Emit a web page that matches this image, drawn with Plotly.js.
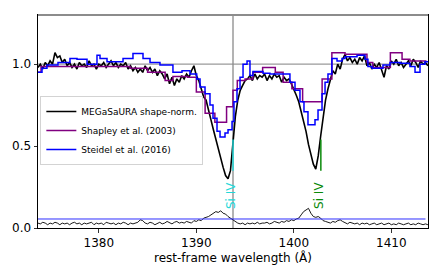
<!DOCTYPE html>
<html>
<head>
<meta charset="utf-8">
<script src="https://cdn.plot.ly/plotly-3.0.1.min.js"></script>
<style>html,body{margin:0;padding:0;background:#fff;}#chart{width:443px;height:277px;}</style>
</head>
<body>
<div id="chart"></div>
<script>
// MEGaSaURA spectrum (rest-frame wavelength, Å)
var megaWave = [1373.75,1374.00,1374.25,1374.50,1374.75,1375.00,1375.25,1375.50,1375.75,1376.00,
1376.25,1376.50,1376.75,1377.00,1377.25,1377.50,1377.75,1378.00,1378.25,1378.50,
1378.75,1379.00,1379.25,1379.50,1379.75,1380.00,1380.25,1380.50,1380.75,1381.00,
1381.25,1381.50,1381.75,1382.00,1382.25,1382.50,1382.75,1383.00,1383.25,1383.50,
1383.75,1384.00,1384.25,1384.50,1384.75,1385.00,1385.25,1385.50,1385.75,1386.00,
1386.25,1386.50,1386.75,1387.00,1387.25,1387.50,1387.75,1388.00,1388.25,1388.50,
1388.75,1389.00,1389.25,1389.50,1389.75,1390.00,1390.25,1390.50,1390.75,1391.00,
1391.25,1391.50,1391.75,1392.00,1392.25,1392.50,1392.75,1393.00,1393.25,1393.50,
1393.75,1394.00,1394.25,1394.50,1394.75,1395.00,1395.25,1395.50,1395.75,1396.00,
1396.25,1396.50,1396.75,1397.00,1397.25,1397.50,1397.75,1398.00,1398.25,1398.50,
1398.75,1399.00,1399.25,1399.50,1399.75,1400.00,1400.25,1400.50,1400.75,1401.00,
1401.25,1401.50,1401.75,1402.00,1402.25,1402.50,1402.75,1403.00,1403.25,1403.50,
1403.75,1404.00,1404.25,1404.50,1404.75,1405.00,1405.25,1405.50,1405.75,1406.00,
1406.25,1406.50,1406.75,1407.00,1407.25,1407.50,1407.75,1408.00,1408.25,1408.50,
1408.75,1409.00,1409.25,1409.50,1409.75,1410.00,1410.25,1410.50,1410.75,1411.00,
1411.25,1411.50,1411.75,1412.00,1412.25,1412.50,1412.75,1413.00,1413.25,1413.50,
1413.75];
var megaFlux = [0.98,1.00,0.97,1.01,0.99,1.02,1.00,1.07,1.04,1.05,
1.01,1.03,0.99,1.01,0.98,1.00,0.97,1.01,0.99,1.00,
0.98,1.02,0.99,1.00,0.97,1.00,0.99,1.01,0.98,1.00,
1.02,0.99,1.01,0.98,1.00,0.99,1.01,0.97,0.99,0.96,
0.98,0.95,0.97,0.95,0.99,0.96,0.98,0.95,0.97,0.93,
0.96,0.94,0.91,0.94,0.88,0.92,0.87,0.91,0.89,0.93,
0.91,0.94,0.92,0.96,0.99,0.93,0.90,0.85,0.80,0.78,
0.71,0.66,0.60,0.54,0.49,0.43,0.37,0.32,0.30,0.35,
0.52,0.68,0.78,0.84,0.87,0.90,0.91,0.93,0.90,0.94,
0.91,0.93,0.92,0.94,0.90,0.93,0.91,0.94,0.92,0.93,
0.89,0.92,0.90,0.91,0.88,0.85,0.81,0.77,0.71,0.65,
0.59,0.51,0.45,0.39,0.36,0.44,0.56,0.68,0.78,0.85,
0.91,0.96,0.94,1.00,0.97,1.03,1.06,1.02,1.04,1.01,
1.03,1.00,1.04,1.02,1.05,0.99,1.01,0.97,1.00,0.98,
1.01,0.96,0.92,0.99,0.97,1.02,1.00,1.03,0.99,1.01,
0.98,1.00,1.02,0.99,1.03,1.01,0.98,1.02,1.00,1.01,
0.99];
var megaErr = [0.03,0.025,0.035,0.03,0.02,0.03,0.025,0.035,0.03,0.02,
0.03,0.025,0.03,0.02,0.03,0.035,0.025,0.03,0.02,0.03,
0.025,0.03,0.035,0.02,0.03,0.025,0.03,0.02,0.035,0.03,
0.025,0.03,0.02,0.03,0.025,0.035,0.03,0.02,0.03,0.025,
0.03,0.035,0.05,0.045,0.03,0.025,0.035,0.03,0.02,0.03,
0.035,0.025,0.03,0.04,0.03,0.025,0.035,0.04,0.03,0.035,
0.03,0.04,0.035,0.03,0.045,0.04,0.05,0.045,0.06,0.065,
0.07,0.08,0.09,0.10,0.095,0.105,0.09,0.085,0.07,0.06,
0.045,0.035,0.03,0.025,0.03,0.02,0.03,0.025,0.03,0.025,
0.035,0.025,0.03,0.03,0.035,0.025,0.03,0.04,0.035,0.03,
0.04,0.035,0.045,0.04,0.05,0.045,0.055,0.06,0.08,0.10,
0.11,0.12,0.09,0.07,0.065,0.07,0.06,0.045,0.04,0.035,
0.03,0.04,0.035,0.045,0.05,0.04,0.03,0.025,0.035,0.03,
0.025,0.03,0.02,0.03,0.025,0.03,0.02,0.025,0.03,0.02,
0.025,0.03,0.02,0.025,0.03,0.02,0.025,0.02,0.03,0.025,
0.02,0.025,0.03,0.02,0.025,0.02,0.03,0.025,0.02,0.025,
0.02];

// Shapley et al. (2003) composite: bin left edges and values
var shapleyWave = [1373.76,1374.07,1383.2,1385.0,1386.8,1387.6,1389.1,1390.0,1390.9,1391.9,
1393.1,1393.76,1394.2,1395.0,1395.8,1396.8,1398.1,1398.9,1399.8,1400.9,
1402.9,1403.9,1405.25,1407.5,1408.1,1409.9,1411.1,1411.9,1413.6];
var shapleyFlux = [0.95,0.985,0.975,0.95,0.90,0.925,0.92,0.83,0.70,0.645,
0.74,0.84,0.90,0.91,0.95,0.98,0.95,0.89,0.85,0.77,
0.91,1.07,1.06,1.01,0.98,1.07,1.03,1.02,1.02];

// Steidel et al. (2016) composite: bin left edges and values
var steidelWave = [1373.76,1374.17,1374.68,1375.81,1377.04,1377.76,1378.79,1379.81,1380.12,1380.84,
1382.48,1383.5,1384.53,1385.25,1386.27,1387.6,1388.53,1389.35,1390.04,1390.38,
1390.89,1391.4,1391.71,1392.12,1392.43,1392.94,1393.25,1393.66,1393.86,1394.17,
1394.48,1394.79,1395.2,1395.5,1395.81,1396.84,1397.55,1399.6,1400.12,1400.63,
1401.04,1401.45,1402.17,1402.48,1402.89,1403.2,1403.5,1403.9,1404.43,1404.94,
1405.25,1406.48,1407.3,1407.6,1408.02,1409.14,1409.86,1410.89,1411.91,1412.43,
1412.94,1413.45,1413.76];
var steidelFlux = [0.95,0.975,0.995,1.01,1.035,1.03,1.0,1.055,1.035,1.014,
1.035,1.065,1.035,1.01,0.995,0.95,0.96,0.94,0.91,0.86,
0.82,0.75,0.67,0.59,0.555,0.58,0.60,0.65,0.77,0.85,
0.92,1.0,1.02,0.93,0.955,0.945,0.94,0.89,0.84,0.77,
0.71,0.63,0.66,0.72,0.82,0.89,0.94,1.035,1.02,1.035,
1.045,1.055,1.03,0.985,0.975,0.995,1.01,1.005,0.985,0.95,
1.0,1.015,1.015];

// flat error level line
var levelWave = [1373.76, 1413.5];
var levelFlux = [0.055, 0.055];

// line identifications
var lineWaves = [1393.76, 1402.77];
var lineNames = ["Si IV", "Si IV"];
var lineColors = ["#22d8d8", "#0a8a0a"];
var markTop = 0.54, markBottom = 0.35, labelY = 0.198;

var xRange = [1373.76, 1413.76];
var yRange = [0, 1.3];
var xTicks = [1380, 1390, 1400, 1410];
var yTicks = [0.0, 0.5, 1.0];

var traces = [
  {x: megaWave, y: megaErr, mode: 'lines', line: {color: '#000', width: 0.9}, showlegend: false, hoverinfo: 'skip'},
  {x: levelWave, y: levelFlux, mode: 'lines', line: {color: '#2f2fff', width: 1}, showlegend: false, hoverinfo: 'skip'},
  {x: megaWave, y: megaFlux, mode: 'lines', name: 'MEGaSaURA shape-norm.', line: {color: '#000', width: 1.6}},
  {x: shapleyWave, y: shapleyFlux, mode: 'lines', name: 'Shapley et al. (2003)', line: {color: '#800080', width: 1.5, shape: 'hv'}},
  {x: steidelWave, y: steidelFlux, mode: 'lines', name: 'Steidel et al. (2016)', line: {color: '#0000ff', width: 1.5, shape: 'hv'}}
];
for (var i = 0; i < lineWaves.length; i++) {
  traces.push({x: [lineWaves[i], lineWaves[i]], y: [markBottom, markTop], mode: 'lines',
    line: {color: lineColors[i], width: 1.5}, showlegend: false, hoverinfo: 'skip'});
}

var annotations = [];
for (var j = 0; j < lineWaves.length; j++) {
  annotations.push({x: lineWaves[j], y: labelY, xref: 'x', yref: 'y', text: lineNames[j],
    textangle: -90, showarrow: false, xshift: -2.5,
    font: {family: 'DejaVu Sans', size: 12, color: lineColors[j]}});
}

var layout = {
  width: 443, height: 277,
  margin: {l: 38, r: 15, t: 15, b: 49, pad: 0},
  paper_bgcolor: '#fff', plot_bgcolor: '#fff',
  font: {family: 'DejaVu Sans', size: 12, color: '#000'},
  showlegend: true,
  legend: {x: 0.006, y: 0.62, xanchor: 'left', yanchor: 'top',
    font: {family: 'DejaVu Sans', size: 9, color: '#000'},
    bgcolor: 'rgba(255,255,255,0.8)', bordercolor: '#d3d3d3', borderwidth: 1,
    itemwidth: 30, traceorder: 'normal'},
  xaxis: {range: xRange, tickvals: xTicks, ticks: 'outside', ticklen: 3.5, tickwidth: 0.8,
    tickcolor: '#000', showline: true, linecolor: '#000', linewidth: 1, mirror: true,
    showgrid: false, zeroline: false,
    title: {text: 'rest-frame wavelength (Å)', font: {size: 12}, standoff: 4}},
  yaxis: {range: yRange, tickvals: yTicks, tickformat: '.1f', ticks: 'outside', ticklen: 3.5,
    tickwidth: 0.8, tickcolor: '#000', showline: true, linecolor: '#000', linewidth: 1,
    mirror: true, showgrid: false, zeroline: false},
  shapes: [
    {type: 'line', xref: 'paper', yref: 'y', x0: 0, x1: 1, y0: 1.0, y1: 1.0,
      line: {color: '#9a9a9a', width: 1.3}, layer: 'below'},
    {type: 'line', xref: 'x', yref: 'paper', x0: 1393.76, x1: 1393.76, y0: 0, y1: 1,
      line: {color: '#8a8a8a', width: 1.3}, layer: 'below'},
    {type: 'line', xref: 'paper', yref: 'paper', x0: 0, x1: 1, y0: 1, y1: 1,
      line: {color: '#8c8c8c', width: 2}, layer: 'above'}
  ],
  annotations: annotations
};

Plotly.newPlot('chart', traces, layout, {displayModeBar: false, staticPlot: true});
</script>
</body>
</html>
